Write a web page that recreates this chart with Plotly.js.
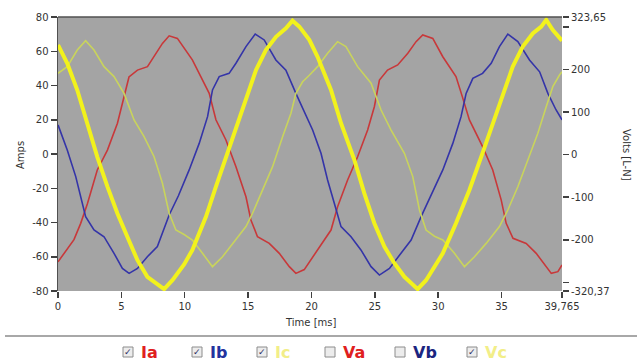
<!DOCTYPE html>
<html>
<head>
<meta charset="utf-8">
<script src="https://cdn.plot.ly/plotly-3.0.1.min.js"></script>
<style>
  html, body { margin: 0; padding: 0; background: #ffffff; }
  #chart { width: 642px; height: 362px; }
</style>
</head>
<body>
<div id="chart"></div>
<script>
// ---------- data ----------
const iaTime = [0,1.26,1.79,2.32,3.1,3.9,4.69,5.21,5.6,6.27,7.06,7.58,8.24,8.77,9.42,10.6,11.4,11.93,12.46,13.25,14.04,14.83,15.22,15.74,16.67,17.46,18.25,18.77,19.43,20.48,21.54,22.06,22.85,23.64,24.43,24.96,25.36,26,26.8,27.6,28.25,28.78,29.57,30.36,31.4,31.9,32.46,33.5,34.3,34.97,35.36,35.9,36.94,37.73,38.52,38.92,39.44,39.765];
const iaAmps = [-63,-50,-40.5,-29,-9.3,2.3,18,33.5,45,49,51,57,64.6,69,67.5,55,43,35.4,20,8.2,-7.4,-25,-38.5,-48.3,-52.2,-58,-65.8,-69.7,-67.5,-56,-44.4,-30.8,-15.2,-1.6,14,27.6,43.2,49,52,58.8,65.6,69.5,67.5,56.8,45.2,33.5,19.9,4.3,-9.3,-26.9,-40.5,-49.2,-52.2,-58,-65.8,-69.7,-68.7,-64.8];

const ibTime = [0,0.73,1.4,1.79,2.18,2.84,3.63,4.42,5.08,5.61,6.27,7.05,7.84,8.77,9.5,10.35,11.14,11.8,12.19,12.72,13.5,14.04,14.83,15.56,16.27,17.19,17.98,18.77,19.43,20.09,20.75,21.27,21.8,22.33,23.12,23.9,24.7,25.36,26.15,27.07,27.86,28.65,29.3,30.36,31.15,31.8,32.2,32.73,33.5,34.18,34.83,35.49,36.28,37.2,38,38.65,39.3,39.765];
const ibAmps = [17,2.3,-13.2,-24.9,-36.6,-44.4,-48.3,-58,-66.8,-69.7,-66.8,-60,-54.1,-35.6,-24.4,-9.3,6.2,21.8,37.4,45.2,47.1,53,62.7,70,66.6,54.9,49,35.4,24.8,14,0.4,-15.2,-28.8,-42.4,-48.3,-56,-65.8,-70.7,-66.8,-58,-50.2,-36.6,-25.9,-9.3,6.2,21.8,35.4,44.2,47.1,53,62.7,70,65.6,54.9,48,35.4,25.7,19.9];

const icTime = [0,0.73,1.52,2.18,2.84,3.63,4.42,5.21,6,6.79,7.58,8.24,8.77,9.3,9.95,10.6,11.4,12.19,12.98,13.77,14.83,15.35,16.14,16.93,17.72,18.38,18.77,19.3,19.83,20.48,21.27,22.06,22.72,23.64,24.7,25.49,26.28,27.33,27.99,28.52,29.04,29.7,30.36,31.28,32.07,32.86,33.78,34.83,35.49,36.28,37.07,37.86,38.52,39.04,39.57,39.765];
const icAmps = [47.1,51,60.7,66.2,60.7,51,45.2,35.4,19.9,10.1,-1.6,-17.1,-34.6,-44.4,-47,-50.2,-58,-65.8,-60,-52.2,-42.4,-34.6,-21,-7.4,10.1,23.8,35.4,42.2,46,51,58.8,65.6,62.7,51,41.3,25.7,14,0.4,-13.2,-32.7,-44.4,-48,-50.2,-58,-65.8,-60,-52.2,-42.4,-32.7,-19.1,-3.5,12.1,27.6,39.3,46.1,48];

const vcTime = [0,0.73,1.52,2.32,3.1,3.9,4.69,5.47,6.27,7.05,7.84,8.37,9.03,9.95,10.6,11.67,12.46,13.25,14.04,14.83,15.62,16.4,17.2,17.98,18.5,19.04,19.43,19.83,20.48,21.54,22.33,23.38,24.17,24.96,25.75,26.54,27.33,27.86,28.38,29.04,29.7,30.36,31.4,32.46,33.39,34.3,35.1,35.88,36.67,37.46,38.13,38.52,39.04,39.765];
const vcVolts = [258,215,152,74,-5,-75,-138,-193,-248,-287,-306,-316,-295,-258,-224,-146,-75,-5,66,129,199,246,277,297,315,301,285,270,230,152,74,-12,-91,-161,-216,-255,-287,-302,-316,-295,-263,-232,-161,-83,-5,74,144,207,254,285,301,317,293,268];

const ampTicks = [-80,-60,-40,-20,0,20,40,60,80];
const ampTickText = ['-80','-60','-40','-20','0','20','40','60','80'];
const voltTicks = [323.65,300,200,100,0,-100,-200,-300,-320.37];
const voltTickText = ['323,65','','200','100','0','-100','-200','','-320,37'];
const timeTicks = [0,5,10,15,20,25,30,35,39.765];
const timeTickText = ['0','5','10','15','20','25','30','35','39,765'];

const legendNames = ['Ia','Ib','Ic','Va','Vb','Vc'];
const legendChecked = [true,true,true,false,false,true];

// ---------- styles ----------
const colIa = '#c8383a', colIb = '#3434a8', colIc = '#c9d45c', colVc = '#f2f21c';
const legendColors = ['#e0201e','#23329e','#f2ee88','#e0201e','#1b2580','#f2ee88'];
const legendBoxX = [128,197,262,330,400,472];   // px centres of the check boxes
const fontFam = 'DejaVu Sans, Arial, sans-serif';
const W = 642, H = 362, L = 58, R = 80, T = 17, B = 71;
const pw = W - L - R, ph = H - T - B;
const px2x = p => (p - L) / pw;
const px2y = p => (H - B - p) / ph;

const traces = [
  {x: iaTime, y: iaAmps, name: 'Ia', type: 'scatter', mode: 'lines', line: {color: colIa, width: 1.6}},
  {x: ibTime, y: ibAmps, name: 'Ib', type: 'scatter', mode: 'lines', line: {color: colIb, width: 1.6}},
  {x: icTime, y: icAmps, name: 'Ic', type: 'scatter', mode: 'lines', line: {color: colIc, width: 1.6}},
  {x: vcTime, y: vcVolts, name: 'Vc', type: 'scatter', mode: 'lines', yaxis: 'y2', line: {color: colVc, width: 4}}
];

const shapes = [
  // top frame line
  {type: 'line', xref: 'paper', yref: 'paper', x0: 0, x1: 1, y0: 1, y1: 1, line: {color: '#505050', width: 1.5}},
  // separator above legend
  {type: 'line', xref: 'paper', yref: 'paper', x0: px2x(5), x1: px2x(637), y0: px2y(336), y1: px2y(336), line: {color: '#a8a8a8', width: 2}}
];
const annotations = [
  {text: 'Amps', xref: 'paper', yref: 'paper', x: px2x(21), y: px2y(155), textangle: -90, showarrow: false,
   font: {family: fontFam, size: 10, color: '#333'}, xanchor: 'center', yanchor: 'middle'},
  {text: 'Volts [L-N]', xref: 'paper', yref: 'paper', x: px2x(626), y: px2y(155), textangle: 90, showarrow: false,
   font: {family: fontFam, size: 10, color: '#333'}, xanchor: 'center', yanchor: 'middle'},
  {text: 'Time [ms]', xref: 'paper', yref: 'paper', x: px2x(311), y: px2y(322), showarrow: false,
   font: {family: fontFam, size: 10, color: '#333'}, xanchor: 'center', yanchor: 'middle'}
];
const rowY = 352;
legendNames.forEach((nm, i) => {
  const cx = legendBoxX[i];
  shapes.push({type: 'rect', xref: 'paper', yref: 'paper',
    x0: px2x(cx - 5), x1: px2x(cx + 5), y0: px2y(rowY + 5), y1: px2y(rowY - 5),
    line: {color: '#8c8c8c', width: 1}, fillcolor: '#ececec'});
  if (legendChecked[i]) {
    annotations.push({text: '✓', xref: 'paper', yref: 'paper', x: px2x(cx), y: px2y(rowY), showarrow: false,
      font: {family: fontFam, size: 9, color: '#2a2a60'}, xanchor: 'center', yanchor: 'middle'});
  }
  annotations.push({text: '<b>' + nm + '</b>', xref: 'paper', yref: 'paper', x: px2x(cx + 11), y: px2y(rowY),
    showarrow: false, font: {family: fontFam, size: 16, color: legendColors[i]}, xanchor: 'left', yanchor: 'middle'});
});

const layout = {
  width: W, height: H,
  margin: {l: L, r: R, t: T, b: B, pad: 0},
  paper_bgcolor: '#ffffff',
  plot_bgcolor: '#a4a4a4',
  showlegend: false,
  font: {family: fontFam, size: 10, color: '#333'},
  xaxis: {range: [0, 39.765], tickmode: 'array', tickvals: timeTicks, ticktext: timeTickText,
    ticks: 'outside', ticklen: 6, tickwidth: 1.5, tickcolor: '#404040', showgrid: false, zeroline: false,
    showline: false, tickfont: {family: fontFam, size: 10, color: '#333'}},
  yaxis: {range: [-80, 80], tickmode: 'array', tickvals: ampTicks, ticktext: ampTickText,
    ticks: 'outside', ticklen: 6, tickwidth: 1.5, tickcolor: '#404040', showgrid: false, zeroline: false,
    showline: true, linecolor: '#505050', linewidth: 1.5, tickfont: {family: fontFam, size: 10, color: '#333'}},
  yaxis2: {range: [-320.37, 323.65], overlaying: 'y', side: 'right', tickmode: 'array',
    tickvals: voltTicks, ticktext: voltTickText, ticks: 'outside', ticklen: 6, tickwidth: 1.5, tickcolor: '#404040',
    showgrid: false, zeroline: false, showline: false, tickfont: {family: fontFam, size: 10, color: '#333'}},
  shapes: shapes,
  annotations: annotations
};

Plotly.newPlot('chart', traces, layout, {displayModeBar: false, staticPlot: true});
</script>
</body>
</html>
